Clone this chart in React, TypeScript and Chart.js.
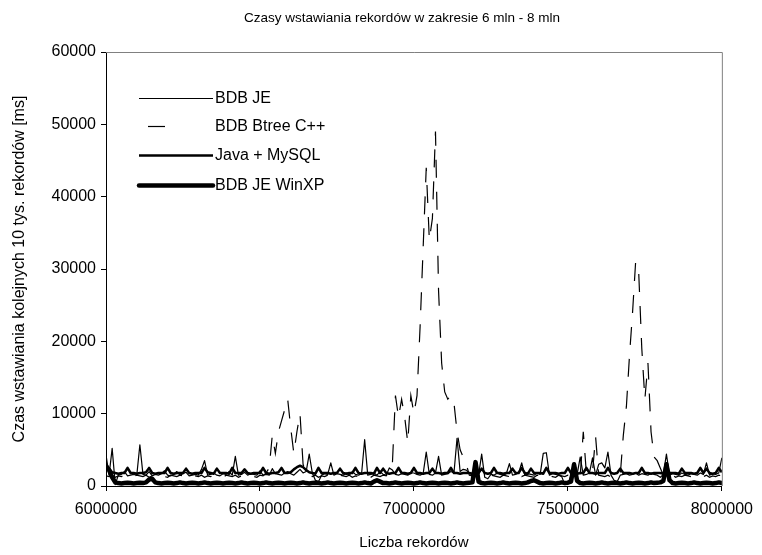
import React, { useEffect, useRef } from 'react';
import { Chart, registerables } from 'chart.js';

Chart.register(...registerables);

const TITLE = 'Czasy wstawiania rekordów w zakresie 6 mln - 8 mln';
const X_TITLE = 'Liczba rekordów';
const Y_TITLE = 'Czas wstawiania kolejnych 10 tys. rekordów [ms]';
const SERIES_NAMES = ['BDB JE', 'BDB Btree C++', 'Java + MySQL', 'BDB JE WinXP'];

const X_START = 6000000;
const X_STEP = 10000;
const X_MIN = 6000000;
const X_MAX = 8000000;
const X_TICK_STEP = 500000;
const Y_MIN = 0;
const Y_MAX = 60000;
const Y_TICK_STEP = 10000;

const bdbJe = [
  4300, 1500, 5200, 200, 1500, 1600, 2000, 1400, 1500, 1600,
  1500, 5700, 1600, 1500, 2000, 1400, 1600, 1500, 1700, 2100,
  1500, 1400, 1600, 2000, 1500, 1700, 1900, 1400, 1500, 1600,
  1500, 2300, 3500, 1500, 1600, 1800, 1500, 1400, 1700, 1600,
  2000, 1500, 4100, 1500, 1600, 1900, 1500, 1700, 1600, 1500,
  2100, 1500, 1600, 1500, 2400, 1700, 1600, 1500, 1800, 2000,
  1700, 1500, 1900, 2300, 1800, 2000, 4400, 1800, 800, 600,
  1500, 1700, 1600, 3200, 1500, 1700, 1600, 1500, 1800, 1500,
  2000, 1600, 1500, 1700, 6400, 1500, 1600, 1800, 1500, 2000,
  1600, 1500, 2500, 2200, 1600, 1500, 1700, 1600, 1500, 1800,
  1800, 1600, 1500, 1700, 4700, 1600, 1500, 1800, 4100, 1500,
  1600, 1700, 2000, 1800, 6600, 2000, 2300, 2200, 1800, 1500,
  1600, 1500, 4400, 1200, 1000, 1600, 1500, 1800, 1600, 1500,
  1700, 3100, 1500, 1600, 1800, 3200, 1500, 1700, 1600, 1500,
  1800, 1600, 4500, 4600, 1500, 1700, 1600, 1500, 1300, 200,
  300, 1500, 1700, 1600, 4000, 1500, 1600, 1800, 3900, 1500,
  3000, 3200, 2500, 4700, 1500, 800, 600, 1500, 1600, 1700,
  1500, 1600, 1800, 1500, 1700, 1600, 1500, 1800, 1600, 1500,
  1200, 1600, 4400, 1500, 1700, 1600, 1500, 1800, 1600, 1500,
  1700, 1600, 1500, 1800, 1600, 3200, 1500, 1700, 1600, 1800,
  3900,
];

const bdbBtree = [
  1400, 1300, 1500, 1200, 1400, 1300, 1500, 1400, 1200, 1300,
  1500, 1400, 1300, 1500, 1200, 1400, 1300, 1500, 1400, 1300,
  1200, 1500, 1400, 1300, 1500, 1400, 1200, 1300, 1500, 1400,
  1300, 1500, 1200, 1400, 1300, 1500, 1400, 1300, 1200, 1500,
  1400, 1300, 1500, 1200, 1400, 1300, 1500, 1400, 1300, 1200,
  1500, 1400, 1800, 2500, 7000, 4500, 7500, 9000, 10500, 12000,
  8000, 4500, 7500, 10000, 3000, 1800, 1400, 1300, 1500, 1200,
  1400, 1300, 1500, 1400, 1300, 1200, 1500, 1400, 1300, 1500,
  1200, 1400, 1300, 1500, 1400, 1300, 1200, 1500, 1400, 1300,
  1500, 1400, 2000, 3000, 12500, 9500, 12000, 9500, 6000, 12500,
  10000, 12500, 22000, 33000, 44000, 34000, 37000, 49000, 27000, 17000,
  13000, 12000, 12500, 11500, 7500, 5000, 4000, 3000, 1500, 1400,
  1300, 1500, 1200, 1400, 1300, 1500, 1400, 1300, 1200, 1500,
  1400, 1300, 1500, 1200, 1400, 1300, 1500, 1400, 1300, 1200,
  1500, 1400, 1300, 1500, 1400, 1300, 1200, 1500, 1400, 1300,
  1500, 1400, 1300, 1500, 1400, 7500, 1800, 1500, 2000, 6800,
  1500, 1400, 1300, 1500, 1200, 1400, 1300, 1500, 7000, 11000,
  18000, 24000, 31000, 29500, 19000, 12000, 17000, 7500, 4000, 3500,
  2500, 1500, 1400, 1300, 1500, 1200, 1400, 1300, 1500, 1400,
  1300, 1200, 1500, 1400, 1300, 1500, 1200, 1400, 1300, 1500,
  1400,
];

const javaMysql = [
  2600, 2400, 1900, 1800, 1700, 1800, 1800, 2500, 1800, 1800,
  1700, 1800, 1800, 1900, 2500, 1800, 1700, 1800, 1800, 1800,
  2500, 1800, 1700, 1800, 1800, 1800, 2400, 1800, 1700, 1800,
  1800, 1800, 2500, 1900, 1800, 1700, 2400, 1800, 1800, 1800,
  1700, 2500, 1800, 1800, 1800, 2300, 1800, 1700, 1800, 1800,
  1800, 2500, 1800, 1700, 1800, 1800, 1900, 2500, 1800, 1800,
  1900, 2300, 2600, 2800, 2600, 2200, 1900, 1800, 1700, 2500,
  1800, 1800, 1800, 1700, 1800, 1800, 2400, 1800, 1700, 1800,
  1800, 2500, 1800, 1700, 1800, 1800, 1800, 1700, 2500, 1800,
  2400, 1800, 1700, 1800, 1800, 2500, 1800, 1800, 1700, 1800,
  2500, 1800, 1800, 1700, 1800, 1800, 2400, 1800, 1800, 1700,
  1800, 1800, 2500, 1800, 1800, 1700, 1800, 1800, 1800, 1700,
  1800, 1800, 2400, 1800, 1700, 1800, 2500, 1800, 1800, 1700,
  1800, 1800, 2400, 1800, 1800, 2500, 1800, 1700, 2400, 1800,
  1800, 1800, 1700, 2500, 1800, 1800, 1800, 1700, 1800, 1800,
  2500, 1800, 1800, 1700, 1800, 1800, 2500, 1800, 1800, 1700,
  1800, 1800, 1800, 2500, 1800, 1700, 1800, 2400, 1800, 1800,
  1800, 1700, 1800, 1800, 2500, 1800, 1800, 1700, 1800, 1800,
  1800, 1700, 2500, 1800, 1800, 1800, 1700, 2400, 1800, 1800,
  1800, 1700, 1800, 2500, 1800, 2400, 1800, 1700, 1800, 2500,
  1900,
];

const bdbJeWinXp = [
  2800, 2200, 1200, 500, 400, 350, 400, 450, 400, 350,
  400, 450, 400, 500, 900, 1000, 500, 400, 350, 400,
  450, 400, 350, 400, 500, 400, 350, 400, 450, 400,
  350, 400, 500, 400, 350, 400, 450, 400, 350, 400,
  450, 400, 350, 400, 500, 400, 350, 400, 450, 400,
  350, 400, 500, 400, 350, 400, 450, 400, 350, 400,
  450, 400, 350, 400, 500, 400, 350, 400, 450, 400,
  350, 400, 500, 400, 350, 400, 450, 400, 350, 400,
  450, 400, 350, 400, 500, 400, 350, 600, 800, 600,
  400, 400, 350, 400, 500, 400, 350, 400, 450, 400,
  350, 400, 500, 400, 350, 400, 450, 400, 350, 400,
  450, 400, 350, 400, 500, 400, 350, 400, 450, 500,
  3300, 600, 400, 350, 400, 450, 400, 350, 400, 500,
  400, 350, 400, 450, 400, 350, 400, 500, 700, 800,
  600, 400, 350, 400, 450, 400, 350, 400, 500, 400,
  450, 600, 3000, 700, 400, 350, 400, 450, 400, 350,
  400, 500, 400, 350, 400, 450, 400, 350, 400, 500,
  400, 350, 400, 450, 400, 350, 400, 500, 400, 450,
  500, 700, 3000, 800, 400, 350, 400, 450, 400, 350,
  400, 500, 400, 350, 400, 450, 400, 350, 400, 500,
  400,
];

const records = bdbJe.map((_, i) => X_START + i * X_STEP);

const FONT = 'Liberation Sans, Arial, Helvetica, sans-serif';

function toPoints(values: number[]) {
  return values.map((v, i) => ({ x: records[i], y: v }));
}

const framePlugin = {
  id: 'frame',
  beforeDatasetsDraw(chart: any) {
    const { ctx, chartArea } = chart;
    ctx.save();
    ctx.strokeStyle = '#808080';
    ctx.lineWidth = 1;
    ctx.beginPath();
    ctx.moveTo(chartArea.left, chartArea.top + 0.5);
    ctx.lineTo(chartArea.right + 0.5, chartArea.top + 0.5);
    ctx.lineTo(chartArea.right + 0.5, chartArea.bottom);
    ctx.stroke();
    ctx.restore();
  },
};

const legendAndTitlePlugin = {
  id: 'legendAndTitle',
  afterDraw(chart: any) {
    const { ctx } = chart;
    ctx.save();
    ctx.fillStyle = '#000';
    ctx.font = `13.5px ${FONT}`;
    ctx.textAlign = 'center';
    ctx.textBaseline = 'middle';
    ctx.fillText(TITLE, 402, 18);

    const rows = [98, 126, 155, 185];
    const lx0 = 139;
    const lx1 = 213;
    chart.data.datasets.forEach((ds: any, i: number) => {
      const y = rows[i];
      const dashed = ds.borderDash && ds.borderDash.length;
      ctx.save();
      ctx.strokeStyle = '#000';
      ctx.lineWidth = ds.borderWidth;
      ctx.lineCap = ds.borderWidth > 3 ? 'round' : 'butt';
      ctx.setLineDash(dashed ? [17, 80] : []);
      ctx.beginPath();
      ctx.moveTo(dashed ? 148 : lx0, y + 0.5);
      ctx.lineTo(lx1, y + 0.5);
      ctx.stroke();
      ctx.restore();
      ctx.fillStyle = '#000';
      ctx.font = `16px ${FONT}`;
      ctx.textAlign = 'left';
      ctx.textBaseline = 'middle';
      ctx.fillText(ds.label, 215, y + 1);
    });
    ctx.restore();
  },
};

export default function App() {
  const canvasRef = useRef<HTMLCanvasElement | null>(null);

  useEffect(() => {
    document.body.style.margin = '0';
    const canvas = canvasRef.current;
    if (!canvas) return;
    const tickFont = { family: FONT, size: 16 };
    const chart = new Chart(canvas, {
      type: 'line',
      data: {
        datasets: [
          {
            label: SERIES_NAMES[0],
            data: toPoints(bdbJe),
            borderColor: '#000',
            borderWidth: 1.2,
            pointRadius: 0,
            tension: 0,
            order: 4,
            borderJoinStyle: 'round',
          },
          {
            label: SERIES_NAMES[1],
            data: toPoints(bdbBtree),
            borderColor: '#000',
            borderWidth: 1.2,
            borderDash: [18, 14],
            pointRadius: 0,
            tension: 0,
            order: 3,
          },
          {
            label: SERIES_NAMES[2],
            data: toPoints(javaMysql),
            borderColor: '#000',
            borderWidth: 2.5,
            pointRadius: 0,
            tension: 0,
            order: 2,
            borderJoinStyle: 'round',
          },
          {
            label: SERIES_NAMES[3],
            data: toPoints(bdbJeWinXp),
            borderColor: '#000',
            borderWidth: 4.5,
            pointRadius: 0,
            tension: 0,
            order: 1,
            borderJoinStyle: 'round',
            borderCapStyle: 'round',
          },
        ] as any,
      },
      options: {
        animation: false,
        responsive: false,
        events: [],
        layout: { padding: { top: 52, right: 38, left: 0, bottom: 0 } },
        plugins: {
          legend: { display: false },
          tooltip: { enabled: false },
          title: { display: false },
        },
        scales: {
          x: {
            type: 'linear',
            min: X_MIN,
            max: X_MAX,
            afterFit: (s: any) => {
              s.height = 69;
            },
            ticks: {
              stepSize: X_TICK_STEP,
              callback: (v: any) => String(v),
              color: '#000',
              font: tickFont,
              padding: 9,
              maxRotation: 0,
              autoSkip: false,
            },
            grid: {
              display: true,
              drawOnChartArea: false,
              drawTicks: true,
              tickLength: 5,
              color: '#000',
            },
            border: { display: true, color: '#000', width: 1 },
            title: {
              display: true,
              text: X_TITLE,
              color: '#000',
              font: { family: FONT, size: 15 },
              padding: { top: 0, bottom: 3 },
            },
          },
          y: {
            type: 'linear',
            min: Y_MIN,
            max: Y_MAX,
            afterFit: (s: any) => {
              s.width = 106;
            },
            ticks: {
              stepSize: Y_TICK_STEP,
              callback: (v: any) => String(v),
              color: '#000',
              font: tickFont,
              padding: 5,
            },
            grid: {
              display: true,
              drawOnChartArea: false,
              drawTicks: true,
              tickLength: 5,
              color: '#000',
            },
            border: { display: true, color: '#000', width: 1 },
            title: {
              display: true,
              text: Y_TITLE,
              color: '#000',
              font: { family: FONT, size: 16 },
              padding: { top: 10, bottom: 0 },
            },
          },
        },
      } as any,
      plugins: [framePlugin, legendAndTitlePlugin],
    });
    return () => chart.destroy();
  }, []);

  return (
    <div style={{ width: 762, height: 555 }}>
      <canvas ref={canvasRef} width={762} height={555} style={{ display: 'block' }} />
    </div>
  );
}
